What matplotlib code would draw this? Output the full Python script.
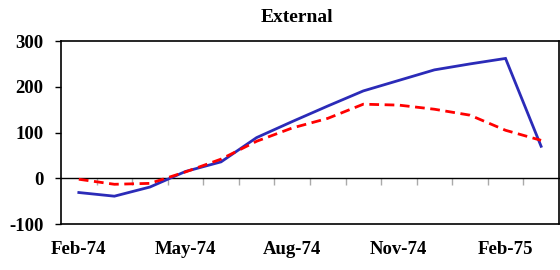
import matplotlib.pyplot as plt
import numpy as np

# monthly data, Feb-74 .. Mar-75
months = ['Feb-74', 'Mar-74', 'Apr-74', 'May-74', 'Jun-74', 'Jul-74', 'Aug-74',
          'Sep-74', 'Oct-74', 'Nov-74', 'Dec-74', 'Jan-75', 'Feb-75', 'Mar-75']
blue = [-31, -39, -19, 15, 36, 89, 124, 158, 191, 214, 237, 250, 262, 70]
red = [-2, -13, -11, 14, 42, 81, 110, 131, 162, 160, 151, 138, 105, 83]
yticks = [-100, 0, 100, 200, 300]

plt.rcParams['font.family'] = 'Liberation Serif'
plt.rcParams['font.weight'] = 'bold'

fig = plt.figure(figsize=(5.6, 2.7), dpi=100)
ax = fig.add_axes([0.109, 0.170, 0.889, 0.678])

x = np.arange(len(months))
ax.plot(x, blue, color='#2b2bb8', lw=2.0, solid_joinstyle='miter')
ax.plot(x, red, color='#ff0000', lw=2.0, linestyle=(0, (3.5, 2)))

ax.set_xlim(-0.5, len(months) - 0.5)
ax.set_ylim(-100, 300)
ax.set_yticks(yticks)
ax.set_yticklabels([str(v) for v in yticks], fontsize=13.5, fontweight='bold')
ax.tick_params(axis='y', direction='out', length=4, width=1, pad=8.5)

ax.set_xticks(x[::3])
ax.set_xticklabels(months[::3], fontsize=13.5, fontweight='bold')
ax.tick_params(axis='x', length=0, pad=12)

for s in ax.spines.values():
    s.set_linewidth(1.2)

# category axis crossing at zero
sec = ax.secondary_xaxis(100 / 400)
sec.set_xticks(x[:-1] + 0.5)
sec.set_xticklabels([])
sec.tick_params(axis='x', direction='out', length=5, width=1, color='#aaaaaa')
sec.spines['bottom'].set_linewidth(1)

fig.text(297 / 560, 1 - 17 / 270, 'External', ha='center', va='center',
         fontsize=14, fontweight='bold')

fig.savefig('out.png', dpi=100)
